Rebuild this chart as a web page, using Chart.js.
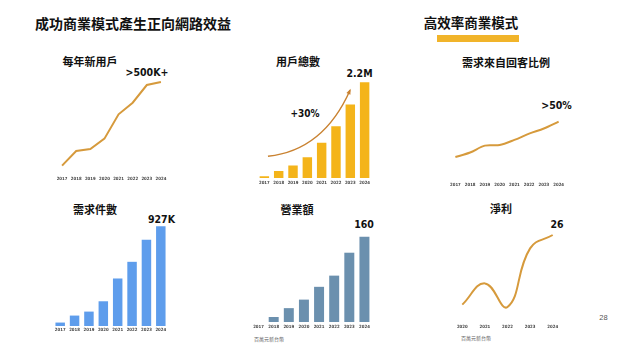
<!DOCTYPE html>
<html><head><meta charset="utf-8">
<script src="https://cdn.jsdelivr.net/npm/chart.js@4"></script>
<style>
html,body{margin:0;padding:0;background:#fff;width:619px;height:345px;overflow:hidden;}
#page{position:relative;width:619px;height:345px;background:#fff;}
canvas{position:absolute;}
.t{position:absolute;white-space:nowrap;transform:translate(-50%,-50%);line-height:1;}
.cjk{font-family:"Noto Sans CJK TC","Noto Sans CJK SC",sans-serif;font-weight:700;color:#111;}
.num{font-family:"DejaVu Sans Condensed","DejaVu Sans",sans-serif;font-weight:700;color:#111;}
.note{font-family:"Noto Sans CJK TC",sans-serif;color:#666;font-size:5px;}
</style></head>
<body><div id="page">
<div class="t cjk" style="left:133px;top:23px;font-size:14px;">成功商業模式產生正向網路效益</div>
<div class="t cjk" style="left:471px;top:23px;font-size:13.5px;">高效率商業模式</div>
<div style="position:absolute;left:437px;top:34.5px;width:81.5px;height:7px;background:#F1B42A;"></div>

<div class="t cjk" style="left:90px;top:61px;font-size:11px;">每年新用戶</div>
<div class="t cjk" style="left:298px;top:61px;font-size:11px;">用戶總數</div>
<div class="t cjk" style="left:506px;top:62px;font-size:11px;">需求來自回客比例</div>
<div class="t cjk" style="left:95px;top:209px;font-size:11px;">需求件數</div>
<div class="t cjk" style="left:297px;top:209px;font-size:11px;">營業額</div>
<div class="t cjk" style="left:501px;top:208px;font-size:11px;">淨利</div>

<div class="t num" style="left:147px;top:72px;font-size:10.5px;">&gt;500K+</div>
<div class="t num" style="left:359.5px;top:73px;font-size:10.5px;">2.2M</div>
<div class="t num" style="left:305px;top:113.5px;font-size:10px;">+30%</div>
<div class="t num" style="left:556.5px;top:105px;font-size:10.5px;">&gt;50%</div>
<div class="t num" style="left:161.5px;top:218.5px;font-size:10.5px;">927K</div>
<div class="t num" style="left:364px;top:224px;font-size:10.5px;">160</div>
<div class="t num" style="left:557px;top:224px;font-size:10.5px;">26</div>

<div class="t note" style="left:269px;top:337.5px;">百萬元新台幣</div>
<div class="t note" style="left:476px;top:337px;">百萬元新台幣</div>
<div class="t" style="left:603.5px;top:317.5px;font-family:'Liberation Sans',sans-serif;font-size:7.5px;color:#555;">28</div>
</div>
<script>
// ---- data ----
const years8 = ['2017','2018','2019','2020','2021','2022','2023','2024'];
const years5 = ['2020','2021','2022','2023','2024'];
const newUsersK = [52, 133, 144, 201, 336, 400, 498, 515];
const totalUsersM = [0.04, 0.16, 0.29, 0.48, 0.81, 1.19, 1.69, 2.2];
const returningPct = [21, 25, 31, 31.5, 36, 41.5, 46, 52];
const demandK = [32, 97, 134, 230, 442, 597, 802, 927];
const revenueM = [0, 9.4, 26, 42, 66, 87, 130, 160];
const netProfitM = [4.7, 11.2, 4, 21.9, 26];
// growth arrow on 用戶總數 (category index, value)
const arrowStart = {x: 0.25, y: 0.50};
const arrowCtrl = {x: 4.13, y: 0.64};
const arrowEnd = {x: 5.98, y: 2.02};

const page = document.getElementById('page');
function makeChart(box, type, labels, data, style, extraPlugins) {
  const c = document.createElement('canvas');
  const h = box.areaH + box.axisH;
  c.width = box.w; c.height = h;
  c.style.left = box.left + 'px'; c.style.top = box.top + 'px';
  c.style.width = box.w + 'px'; c.style.height = h + 'px';
  page.appendChild(c);
  const ds = Object.assign({data: data}, style);
  return new Chart(c.getContext('2d'), {
    type: type,
    data: {labels: labels, datasets: [ds]},
    options: {
      responsive: false, animation: false, devicePixelRatio: 1,
      layout: {padding: 0},
      plugins: {legend: {display: false}, tooltip: {enabled: false}},
      scales: {
        x: {
          offset: true,
          grid: {display: false, drawTicks: false},
          border: {display: false},
          ticks: {autoSkip: false, maxRotation: 0, padding: box.pad,
            font: {family: 'DejaVu Sans Condensed', weight: 'bold', size: 4.3}, color: '#444'},
          afterFit: (s) => { s.height = box.axisH; }
        },
        y: {display: false, min: box.min, max: box.max}
      }
    },
    plugins: extraPlugins || []
  });
}
const lineColor = '#D69A3C';
makeChart({left: 54.6, top: 72, w: 113, areaH: 103, axisH: 9, pad: 1, min: 0, max: 570},
  'line', years8, newUsersK,
  {borderColor: lineColor, borderWidth: 2, pointRadius: 0, tension: 0, clip: false});

const arrowPlugin = {
  id: 'arrow',
  afterDatasetsDraw(chart) {
    const xs = chart.scales.x, ys = chart.scales.y, ctx = chart.ctx;
    const p0 = {x: xs.getPixelForValue(arrowStart.x), y: ys.getPixelForValue(arrowStart.y)};
    const p1 = {x: xs.getPixelForValue(arrowCtrl.x), y: ys.getPixelForValue(arrowCtrl.y)};
    const p2 = {x: xs.getPixelForValue(arrowEnd.x), y: ys.getPixelForValue(arrowEnd.y)};
    ctx.save();
    ctx.strokeStyle = '#C98231'; ctx.fillStyle = '#C98231'; ctx.lineWidth = 1.4;
    ctx.beginPath(); ctx.moveTo(p0.x, p0.y); ctx.quadraticCurveTo(p1.x, p1.y, p2.x, p2.y); ctx.stroke();
    const a = Math.atan2(p2.y - p1.y, p2.x - p1.x), L = 4.5;
    ctx.beginPath();
    ctx.moveTo(p2.x + Math.cos(a) * 1.5, p2.y + Math.sin(a) * 1.5);
    ctx.lineTo(p2.x - L * Math.cos(a - 0.5), p2.y - L * Math.sin(a - 0.5));
    ctx.lineTo(p2.x - L * Math.cos(a + 0.5), p2.y - L * Math.sin(a + 0.5));
    ctx.closePath(); ctx.fill();
    ctx.restore();
  }
};
makeChart({left: 256.6, top: 78, w: 115, areaH: 100, axisH: 9, pad: 2, min: 0, max: 2.3},
  'bar', years8, totalUsersM,
  {backgroundColor: '#F4B41A', barPercentage: 0.66, categoryPercentage: 1}, [arrowPlugin]);

makeChart({left: 448.3, top: 100, w: 118, areaH: 81, axisH: 9, pad: 1.5, min: 0, max: 71},
  'line', years8, returningPct,
  {borderColor: lineColor, borderWidth: 2, pointRadius: 0, tension: 0.3, clip: false});

makeChart({left: 53.1, top: 220, w: 115, areaH: 106, axisH: 9, pad: 1, min: 0, max: 986},
  'bar', years8, demandK,
  {backgroundColor: '#5E9DEC', barPercentage: 0.66, categoryPercentage: 1});

makeChart({left: 251.4, top: 230, w: 121, areaH: 92, axisH: 9, pad: 2, min: 0, max: 172.6},
  'bar', years8, revenueM,
  {backgroundColor: '#6B90AE', barPercentage: 0.66, categoryPercentage: 1});

makeChart({left: 451.4, top: 225, w: 113, areaH: 95, axisH: 11, pad: 4, min: 0, max: 29.06},
  'line', years5, netProfitM,
  {borderColor: lineColor, borderWidth: 2, pointRadius: 0, tension: 0.45, clip: false});
</script>
</body></html>
